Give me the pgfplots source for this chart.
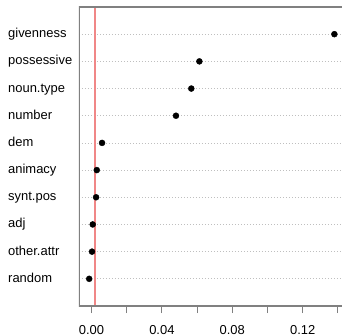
\documentclass[border=0pt]{standalone}
\usepackage{fontspec}
\setmainfont{Liberation Sans}
\usepackage{pgfplots}
\pgfplotsset{compat=1.18}
\definecolor{framec}{gray}{0.5}
\definecolor{gridc}{gray}{0.75}
\definecolor{refred}{RGB}{240,135,135}
\begin{document}
\begin{tikzpicture}
\path[use as bounding box] (-79bp,-30bp) rectangle (263bp,306bp);
\begin{axis}[
  at={(0,0)}, anchor=south west,
  scale only axis, width=263bp, height=299bp,
  xmin=-0.0071, xmax=0.14233, ymin=0, ymax=11,
  axis line style={draw=none},
  xtick={0,0.02,0.04,0.06,0.08,0.10,0.12,0.14},
  xticklabels={0.00,,0.04,,0.08,,0.12,},
  xtick pos=bottom, ytick pos=left,
  tick align=outside,
  major tick length=7bp,
  xtick style={framec, line width=1bp},
  ytick={1,2,3,4,5,6,7,8,9,10},
  yticklabels={random,other.attr,adj,synt.pos,animacy,dem,number,noun.type,possessive,givenness},
  ytick style={draw=none},
  ymajorgrids,
  y grid style={gridc, line width=0.8bp, dash pattern=on 1.5bp off 1.5bp},
  tick label style={font=\fontsize{13}{15}\selectfont, text=black, inner sep=0pt},
  xticklabel style={anchor=base, yshift=-21.5bp},
  yticklabel style={anchor=base west, xshift=-64bp, yshift=-3.5bp},
]
\addplot[refred, line width=1.3bp] coordinates {(0.002,0) (0.002,11)};
\addplot[only marks, mark=*, mark size=3bp, black] coordinates {
(0.138,10) (0.0613,9) (0.0567,8) (0.048,7) (0.006,6) (0.003,5) (0.0026,4) (0.0007,3) (0.0003,2) (-0.0013,1)};
\draw[framec, line width=1.1bp] (rel axis cs:1,1) -- (rel axis cs:0,1) -- (rel axis cs:0,0) -- (rel axis cs:1,0);
\end{axis}
\end{tikzpicture}
\end{document}
